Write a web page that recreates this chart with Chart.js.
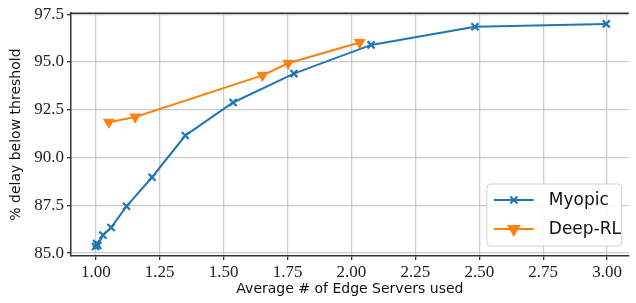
<!DOCTYPE html>
<html>
<head>
<meta charset="utf-8">
<script src="https://cdn.jsdelivr.net/npm/chart.js@4/dist/chart.umd.min.js"></script>
<style>
  html, body { margin: 0; padding: 0; background: #fff; }
  #wrap { width: 636px; height: 303px; }
</style>
</head>
<body>
<div id="wrap"><canvas id="edgeChart" width="636" height="303"></canvas></div>
<script>
// values
const myopicX = [0.999, 1.003, 1.008, 1.028, 1.06, 1.12, 1.22, 1.35, 1.537, 1.775, 2.077, 2.483, 2.997];
const myopicY = [85.35, 85.5, 85.4, 85.94, 86.34, 87.45, 88.97, 91.15, 92.88, 94.39, 95.89, 96.84, 96.99];
const deepX = [1.051, 1.154, 1.652, 1.752, 2.032];
const deepY = [91.85, 92.12, 94.3, 94.93, 96.02];
const xTicks = [1.0, 1.25, 1.5, 1.75, 2.0, 2.25, 2.5, 2.75, 3.0];
const yTicks = [85.0, 87.5, 90.0, 92.5, 95.0, 97.5];

const BLUE = '#1f77b4';
const ORANGE = '#ff7f0e';

Chart.defaults.font.family = "Liberation Serif";
Chart.defaults.font.size = 17;

const toPoints = (xs, ys) => xs.map((x, i) => ({ x: x, y: ys[i] }));

// top spine + boxed legend inside the plot
const framePlugin = {
    id: 'frame',
    afterDraw(chart) {
        const ctx = chart.ctx;
        const a = chart.chartArea;
        ctx.save();
        ctx.strokeStyle = '#333333';
        ctx.lineWidth = 1.5;
        ctx.beginPath();
        ctx.moveTo(a.left, a.top);
        ctx.lineTo(a.right, a.top);
        ctx.stroke();

        const bx = a.right - 142, by = a.bottom - 72, bw = 135, bh = 62;
        ctx.beginPath();
        ctx.roundRect(bx, by, bw, bh, 4);
        ctx.fillStyle = 'rgba(255,255,255,0.85)';
        ctx.fill();
        ctx.strokeStyle = '#d0d0d0';
        ctx.lineWidth = 1;
        ctx.stroke();

        chart.data.datasets.forEach((ds, i) => {
            const y = by + 16 + i * 29;
            ctx.strokeStyle = ds.borderColor;
            ctx.fillStyle = ds.backgroundColor;
            ctx.lineWidth = 2;
            ctx.beginPath();
            ctx.moveTo(bx + 7, y);
            ctx.lineTo(bx + 47, y);
            ctx.stroke();
            Chart.helpers.drawPoint(ctx, {
                pointStyle: ds.pointStyle,
                radius: ds.pointRadius,
                rotation: ds.pointRotation || 0,
                borderWidth: ds.pointBorderWidth
            }, bx + 27, y);
            ctx.fillStyle = '#111';
            ctx.font = "17px 'DejaVu Sans', sans-serif";
            ctx.textBaseline = 'middle';
            ctx.fillText(ds.label, bx + 62, y + 1);
        });
        ctx.restore();
    }
};

new Chart(document.getElementById('edgeChart').getContext('2d'), {
    type: 'scatter',
    data: {
        datasets: [{
            label: 'Myopic',
            data: toPoints(myopicX, myopicY),
            showLine: true,
            borderColor: BLUE,
            backgroundColor: BLUE,
            borderWidth: 2,
            pointStyle: 'crossRot',
            pointRadius: 5,
            pointBorderWidth: 2.2
        }, {
            label: 'Deep-RL',
            data: toPoints(deepX, deepY),
            showLine: true,
            borderColor: ORANGE,
            backgroundColor: ORANGE,
            borderWidth: 2,
            pointStyle: 'triangle',
            pointRotation: 180,
            pointRadius: 6,
            pointBorderWidth: 1
        }]
    },
    options: {
        responsive: false,
        animation: false,
        layout: { padding: { top: 12, right: 0, left: 0, bottom: 0 } },
        plugins: {
            legend: { display: false },
            tooltip: { enabled: false }
        },
        scales: {
            x: {
                type: 'linear',
                min: 0.903,
                max: 3.085,
                afterBuildTicks: s => { s.ticks = xTicks.map(v => ({ value: v })); },
                afterFit: s => { s.height = 47; },
                ticks: {
                    font: { family: 'Liberation Serif', size: 17 },
                    color: '#222',
                    padding: 2,
                    maxRotation: 0,
                    callback: v => Number(v).toFixed(2)
                },
                grid: { color: '#cccccc', lineWidth: 1.3, tickColor: '#333', tickLength: 4 },
                border: { color: '#333333', width: 1.5 },
                title: {
                    display: true, text: 'Average # of Edge Servers used',
                    font: { family: 'DejaVu Sans', size: 14 }, color: '#111',
                    padding: { top: 0, bottom: 5 }
                }
            },
            y: {
                min: 84.85,
                max: 97.55,
                afterBuildTicks: s => { s.ticks = yTicks.map(v => ({ value: v })); },
                afterFit: s => { s.width = 71; },
                ticks: {
                    font: { family: 'Liberation Serif', size: 17 },
                    color: '#222',
                    padding: 3,
                    callback: v => Number(v).toFixed(1)
                },
                grid: { color: '#cccccc', lineWidth: 1.3, tickColor: '#333', tickLength: 4 },
                border: { color: '#333333', width: 1.5 },
                title: {
                    display: true, text: '% delay below threshold',
                    font: { family: 'DejaVu Sans', size: 14 }, color: '#111',
                    padding: { top: 8, bottom: 0 }
                }
            }
        }
    },
    plugins: [framePlugin]
});
</script>
</body>
</html>
